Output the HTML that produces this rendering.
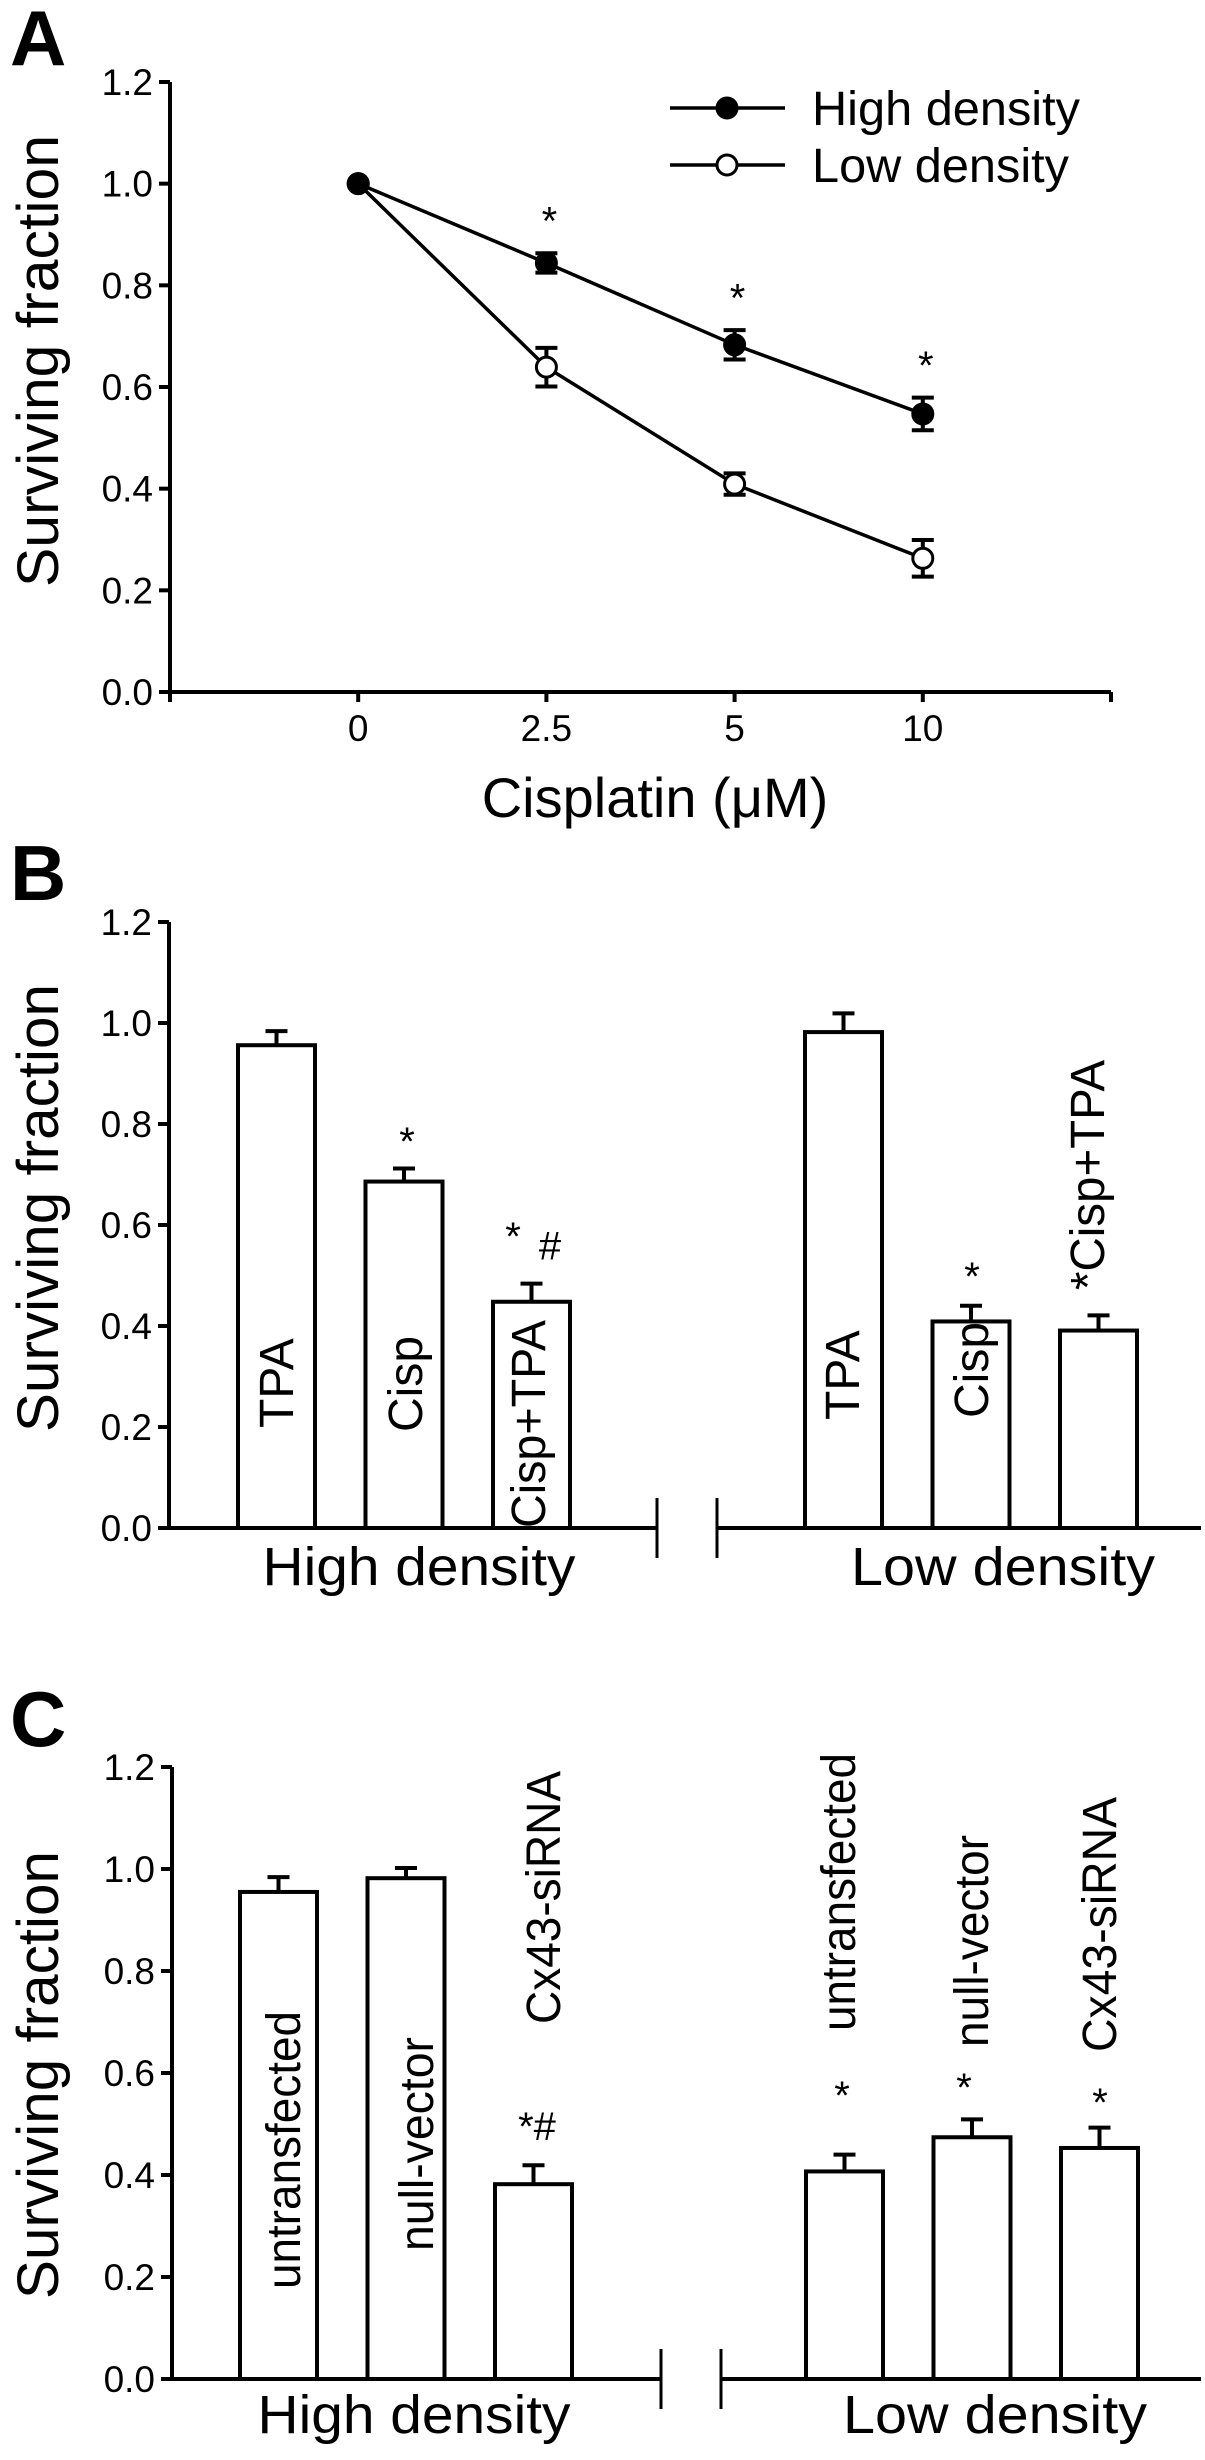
<!DOCTYPE html>
<html><head><meta charset="utf-8"><style>
html,body{margin:0;padding:0;background:#fff;}
svg{display:block;font-family:"Liberation Sans",Arial,sans-serif;}
</style></head><body>
<svg id="fig" width="1205" height="2460" viewBox="0 0 1205 2460" xmlns="http://www.w3.org/2000/svg"></svg>
<script>
// ---------- data ----------
const doseLabels = ["0", "2.5", "5", "10"];
const highDensity = [1.0, 0.844, 0.683, 0.547];
const highErr = [0.0, 0.019, 0.029, 0.032];
const lowDensity = [1.0, 0.639, 0.409, 0.263];
const lowErr = [0.0, 0.038, 0.021, 0.036];
const sigA = ["", "*", "*", "*"];
const yTicks = [0.0, 0.2, 0.4, 0.6, 0.8, 1.0, 1.2];
const yTickLabels = ["0.0", "0.2", "0.4", "0.6", "0.8", "1.0", "1.2"];

const bCats = ["TPA", "Cisp", "Cisp+TPA"];
const bHigh = [0.956, 0.686, 0.448];
const bHighErr = [0.028, 0.026, 0.036];
const bLow = [0.982, 0.409, 0.391];
const bLowErr = [0.037, 0.031, 0.030];

const cCats = ["untransfected", "null-vector", "Cx43-siRNA"];
const cHigh = [0.955, 0.982, 0.382];
const cHighErr = [0.029, 0.020, 0.037];
const cLow = [0.407, 0.474, 0.453];
const cLowErr = [0.033, 0.035, 0.040];

const NS = "http://www.w3.org/2000/svg";
const svg = document.getElementById("fig");
function mk(tag, attrs, parent, text) {
  const e = document.createElementNS(NS, tag);
  for (const k in attrs) e.setAttribute(k, attrs[k]);
  if (text !== undefined) e.textContent = text;
  (parent || svg).appendChild(e);
  return e;
}
const SW = 4;

function yAxis(g, x, y0, y12, panel) {
  const ys = v => y0 - (y0 - y12) * v / 1.2;
  const ax = mk("line", {x1: x, y1: y12, x2: x, y2: y0 + 2, stroke: "#000", "stroke-width": SW}, g);
  
  
  yTicks.forEach((v, i) => {
    const t = mk("line", {x1: x - 11, y1: ys(v), x2: x, y2: ys(v), stroke: "#000", "stroke-width": SW}, g);
    
    
    const l = mk("text", {x: x - 17, y: ys(v) + 13, "text-anchor": "end", "font-size": 37}, g, yTickLabels[i]);
    
    
  });
  return ys;
}
function yTitle(g, cy, len) {
  const t = mk("text", {x: 0, y: 0, "text-anchor": "middle", "font-size": 58, textLength: len, lengthAdjust: "spacingAndGlyphs", transform: `translate(58,${cy}) rotate(-90)`}, g, "Surviving fraction");
  
  
}
function panelLetter(g, ch, y) {
  const t = mk("text", {x: 10, y: y, "font-size": 78, "font-weight": "bold"}, g, ch);
  
  
}
// star placed by glyph visual centre
function star(g, x, cy, s) {
  const fs = 40;
  const off = s === "#" ? 0.36 * fs : (s.indexOf("#") >= 0 ? 0.45 * fs : 0.58 * fs);
  const t = mk("text", {x: x, y: cy + off, "text-anchor": "middle", "font-size": fs}, g, s);
  
  
}

// ---------- Panel A ----------
(function(){
  const g = mk("g", {});  
  panelLetter(g, "A", 65);
  const x0 = 170, x1 = 1111, y0 = 692, y12 = 82;
  const xs = i => x0 + (i + 1) * (x1 - x0) / 5;
  const ys = yAxis(g, x0, y0, y12, "a");
  const xa = mk("line", {x1: x0 - 2, y1: y0, x2: x1, y2: y0, stroke: "#000", "stroke-width": SW}, g);
   
  [x0, x1].forEach(x => { const t = mk("line", {x1: x, y1: y0, x2: x, y2: y0 + 10, stroke: "#000", "stroke-width": SW}, g);   });
  doseLabels.forEach((d, i) => {
    const t = mk("line", {x1: xs(i), y1: y0, x2: xs(i), y2: y0 + 10, stroke: "#000", "stroke-width": SW}, g);
     
    const l = mk("text", {x: xs(i), y: 741, "text-anchor": "middle", "font-size": 37}, g, d);
     
  });
  const xt = mk("text", {x: 655, y: 817, "text-anchor": "middle", "font-size": 56}, g, "Cisplatin (μM)");
   
  yTitle(g, 361, 452);
  function series(vals, errs, fill, name) {
    const pts = vals.map((v, i) => xs(i) + "," + ys(v)).join(" ");
    const pl = mk("polyline", {points: pts, fill: "none", stroke: "#000", "stroke-width": 3.5}, g);
     
    vals.forEach((v, i) => {
      if (errs[i] > 0) {
        const eb = mk("path", {d: `M${xs(i)},${ys(v - errs[i])}V${ys(v + errs[i])}M${xs(i) - 11},${ys(v - errs[i])}h22M${xs(i) - 11},${ys(v + errs[i])}h22`, stroke: "#000", "stroke-width": SW, fill: "none"}, g);
         
      }
      const c = mk("circle", {cx: xs(i), cy: ys(v), r: 10, fill: fill, stroke: "#000", "stroke-width": 3}, g);
       
    });
  }
  series(lowDensity, lowErr, "#fff", "low-density");
  series(highDensity, highErr, "#000", "high-density");
  sigA.forEach((s, i) => { if (s) star(g, xs(i) + 3, ys(highDensity[i] + highErr[i]) - 42, s); });
  [["High density", "#000", 108], ["Low density", "#fff", 165]].forEach(([lab, f, y]) => {
    const lg = mk("g", {}, g);  
    mk("line", {x1: 670, y1: y, x2: 785, y2: y, stroke: "#000", "stroke-width": 3.5}, lg);
    mk("circle", {cx: 727, cy: y, r: 10, fill: f, stroke: "#000", "stroke-width": 3}, lg);
    mk("text", {x: 812, y: y + 17, "font-size": 48, textLength: lab.length > 11 ? 268 : 257, lengthAdjust: "spacingAndGlyphs"}, lg, lab);
  });
})();

// ---------- bar panel helper ----------
function barPanel(opts) {
  const g = mk("g", {});  
  panelLetter(g, opts.letter, opts.letterY);
  const ys = yAxis(g, opts.x0, opts.y0, opts.y12, opts.letter.toLowerCase());
  const y0 = opts.y0;
  const segs = [[opts.x0 - 2, opts.brk1], [opts.brk2, 1201]];
  segs.forEach(([a, b]) => { const l = mk("line", {x1: a, y1: y0, x2: b, y2: y0, stroke: "#000", "stroke-width": SW}, g);   });
  [opts.brk1, opts.brk2].forEach(x => { const l = mk("line", {x1: x, y1: y0 - 30, x2: x, y2: y0 + 30, stroke: "#000", "stroke-width": 3}, g);   });
  const groups = [[opts.high, opts.highErr, opts.hx, "high"], [opts.low, opts.lowErr, opts.lx, "low"]];
  groups.forEach(([vals, errs, gx, nm]) => {
    vals.forEach((v, i) => {
      const bx = gx + i * 127.5, w = 77, cx = bx + w / 2;
      const eb = mk("path", {d: `M${cx},${ys(v)}V${ys(v + errs[i])}M${cx - 11},${ys(v + errs[i])}h22`, stroke: "#000", "stroke-width": SW, fill: "none"}, g);
       
      const r = mk("rect", {x: bx, y: ys(v), width: w, height: y0 - ys(v), fill: "#fff", stroke: "#000", "stroke-width": SW}, g);
      
      
    });
  });
  opts.labels.forEach(([txt, x, y, fs, len]) => {
    const a = {x: 0, y: 0, "font-size": fs, transform: `translate(${x},${y}) rotate(-90)`};
    if (len) { a.textLength = len; a.lengthAdjust = "spacingAndGlyphs"; }
    const t = mk("text", a, g, txt);
     
  });
  opts.stars.forEach(([x, y, s]) => star(g, x, y, s));
  [["High density", opts.hlx, 313], ["Low density", opts.llx, 304]].forEach(([t, cx, len]) => {
    const e = mk("text", {x: cx, y: opts.groupY, "text-anchor": "middle", "font-size": 54, textLength: len, lengthAdjust: "spacingAndGlyphs"}, g, t);
     
  });
  yTitle(g, opts.titleY, opts.titleLen);
}

// ---------- Panel B ----------
barPanel({name: "panel-b", letter: "B", letterY: 900, x0: 169, y0: 1528, y12: 922,
  brk1: 657, brk2: 717, cats: bCats, high: bHigh, highErr: bHighErr, low: bLow, lowErr: bLowErr,
  hx: 238, lx: 805,
  labels: [["TPA", 293, 1428, 48], ["Cisp", 422, 1432, 48], ["Cisp+TPA", 545, 1528, 48, 208],
           ["TPA", 859, 1420, 48], ["Cisp", 988, 1418, 48], ["*Cisp+TPA", 1104, 1290, 48, 230]],
  stars: [[407, 1132, "*"], [513, 1227, "*"], [550, 1245, "#"], [972, 1267, "*"]],
  hlx: 419, llx: 1003, groupY: 1585, titleY: 1208, titleLen: 448});

// ---------- Panel C ----------
barPanel({name: "panel-c", letter: "C", letterY: 1746, x0: 172, y0: 2379, y12: 1767,
  brk1: 661, brk2: 721, cats: cCats, high: cHigh, highErr: cHighErr, low: cLow, lowErr: cLowErr,
  hx: 240, lx: 806,
  labels: [["untransfected", 300, 2289, 48, 278], ["null-vector", 433, 2251, 48, 214], ["Cx43-siRNA", 560, 2024, 48, 253],
           ["untransfected", 855, 2031, 48, 278], ["null-vector", 988, 2047, 48, 212], ["Cx43-siRNA", 1116, 2052, 48, 255]],
  stars: [[537, 2122, "*#"], [842, 2086, "*"], [964, 2078, "*"], [1100, 2093, "*"]],
  hlx: 414, llx: 995, groupY: 2433, titleY: 2075, titleLen: 448});
</script>
</body></html>
